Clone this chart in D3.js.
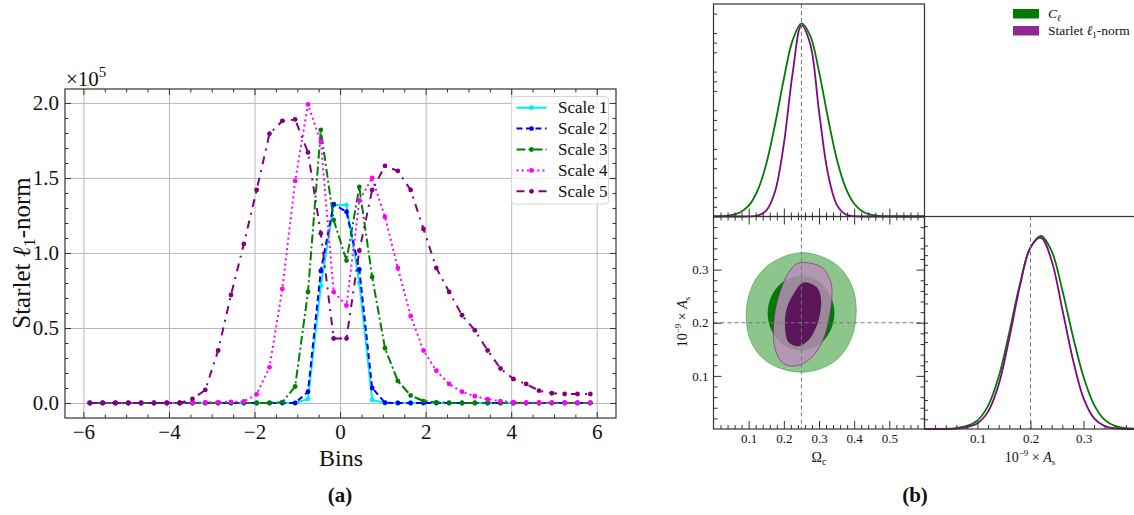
<!DOCTYPE html>
<html>
<head>
<meta charset="utf-8">
<script src="https://cdn.jsdelivr.net/npm/d3@7"></script>
<style>
  body { margin: 0; background: #fff; }
</style>
</head>
<body>
<svg id="fig" width="1134" height="515" font-family="Liberation Serif"></svg>
<script>
// ---- panel (a) data: starlet l1-norm per bin, in units of 1e5 ----
const bins = [-5.85, -5.55, -5.25, -4.95, -4.65, -4.35, -4.05, -3.75, -3.45, -3.15,
              -2.85, -2.55, -2.25, -1.95, -1.65, -1.35, -1.05, -0.75, -0.45, -0.15,
               0.15,  0.45,  0.75,  1.05,  1.35,  1.65,  1.95,  2.25,  2.55,  2.85,
               3.15,  3.45,  3.75,  4.05,  4.35,  4.65,  4.95,  5.25,  5.55,  5.85];
const scale1 = [0, 0, 0, 0, 0, 0, 0, 0, 0, 0,
                0, 0, 0, 0, 0, 0, 0, 0.027, 0.78, 1.32,
                1.32, 0.80, 0.02, 0, 0, 0, 0, 0, 0, 0,
                0, 0, 0, 0, 0, 0, 0, 0, 0, 0];
const scale2 = [0, 0, 0, 0, 0, 0, 0, 0, 0, 0,
                0, 0, 0, 0, 0, 0, 0, 0.075, 0.88, 1.325,
                1.275, 0.89, 0.10, 0.002, 0, 0, 0, 0, 0, 0,
                0, 0, 0, 0, 0, 0, 0, 0, 0, 0];
const scale3 = [0, 0, 0, 0, 0, 0, 0, 0, 0, 0,
                0, 0, 0, 0, 0, 0.005, 0.11, 0.74, 1.82, 1.22,
                0.95, 1.44, 0.84, 0.365, 0.147, 0.05, 0.013, 0.004, 0.001, 0,
                0, 0, 0, 0, 0, 0, 0, 0, 0, 0];
const scale4 = [0, 0, 0, 0, 0, 0, 0, 0, 0.003, 0.004,
                0.005, 0.007, 0.01, 0.058, 0.238, 0.76, 1.48, 1.99, 1.74, 0.74,
                0.65, 1.35, 1.50, 1.24, 0.90, 0.58, 0.35, 0.215, 0.127, 0.075,
                0.045, 0.025, 0.012, 0.005, 0.002, 0.002, 0.002, 0.002, 0.002, 0.002];
const scale5 = [0, 0, 0, 0, 0, 0, 0, 0, 0.027, 0.087,
                0.35, 0.72, 1.06, 1.42, 1.795, 1.88, 1.89, 1.67, 1.13, 0.43,
                0.43, 1.015, 1.42, 1.58, 1.547, 1.42, 1.16, 0.90, 0.74, 0.585,
                0.485, 0.35, 0.23, 0.16, 0.127, 0.082, 0.065, 0.06, 0.06, 0.06];
const seriesNames = ["Scale 1", "Scale 2", "Scale 3", "Scale 4", "Scale 5"];
const xTicksA = [-6, -4, -2, 0, 2, 4, 6];
const yTicksA = [0, 0.5, 1.0, 1.5, 2.0];

// ---- panel (b) data ----
const omegaGrid = [0, 0.025, 0.05, 0.075, 0.1, 0.125, 0.15, 0.175, 0.2, 0.225, 0.25, 0.275,
                   0.3, 0.325, 0.35, 0.375, 0.4, 0.425, 0.45, 0.475, 0.5, 0.525, 0.55, 0.575, 0.6];
const omegaCl = [0.0005, 0.002, 0.007, 0.021, 0.056, 0.133, 0.272, 0.476, 0.712, 0.912, 1.0, 0.936,
                 0.750, 0.515, 0.302, 0.152, 0.066, 0.025, 0.008, 0.0022, 0.0005, 0.0001, 0, 0, 0];
const omegaStarlet = [0, 0, 0, 0, 0.0005, 0.0047, 0.030, 0.129, 0.375, 0.741, 0.989, 0.893,
                      0.546, 0.226, 0.063, 0.012, 0.0015, 0, 0, 0, 0, 0, 0, 0, 0];
const asGrid = [0, 0.02, 0.04, 0.06, 0.08, 0.1, 0.12, 0.14, 0.16, 0.18, 0.2,
                0.22, 0.24, 0.26, 0.28, 0.3, 0.32, 0.34, 0.36, 0.38, 0.4];
const asCl = [0, 0, 0.001, 0.005, 0.016, 0.045, 0.12, 0.27, 0.50, 0.75, 0.94,
              1.0, 0.92, 0.72, 0.48, 0.27, 0.125, 0.047, 0.015, 0.004, 0.001];
const asStarlet = [0, 0, 0, 0.002, 0.01, 0.03, 0.09, 0.23, 0.47, 0.74, 0.94,
                   0.99, 0.87, 0.62, 0.36, 0.16, 0.055, 0.015, 0.003, 0, 0];
// contours, [Omega_c, 1e-9 A_s]
const clOuter = [[0.252, 0.332], [0.342, 0.313], [0.39, 0.275], [0.406, 0.2245], [0.39, 0.1675],
                 [0.342, 0.126], [0.256, 0.107], [0.161, 0.123], [0.109, 0.161], [0.093, 0.218],
                 [0.114, 0.275], [0.166, 0.313]];
const clInner = [[0.344, 0.218], [0.331, 0.253], [0.297, 0.279], [0.249, 0.288], [0.202, 0.279],
                 [0.167, 0.253], [0.154, 0.218], [0.167, 0.183], [0.202, 0.157], [0.249, 0.148],
                 [0.297, 0.157], [0.331, 0.183]];
const starletOuter = [[0.266, 0.313], [0.309, 0.304], [0.333, 0.278], [0.337, 0.250], [0.328, 0.2055],
                      [0.309, 0.164], [0.276, 0.133], [0.237, 0.119], [0.199, 0.123], [0.176, 0.1485],
                      [0.171, 0.199], [0.185, 0.25], [0.213, 0.294], [0.237, 0.311]];
const starletInner = [[0.266, 0.276], [0.295, 0.266], [0.306, 0.2435], [0.299, 0.2055], [0.275, 0.171],
                      [0.242, 0.156], [0.213, 0.164], [0.203, 0.199], [0.210, 0.231], [0.232, 0.259],
                      [0.25, 0.274]];
const omegaTicks = [0.1, 0.2, 0.3, 0.4, 0.5];
const asTicksLeft = [0.1, 0.2, 0.3];
const asTicksBottom = [0.1, 0.2, 0.3];
const fiducial = { omega: 0.25, as: 0.2 };

const svg = d3.select("#fig");
const GRID = "#b8b8b8", FRAME = "#333";
const SERIF = "Liberation Serif";

function minorTicks(lo, hi, step, skip) {
    // tick positions between lo and hi, skipping those in "skip"
    const out = [];
    for (let v = lo; v <= hi + 1e-9; v += step) {
        const r = Math.round(v * 1000) / 1000;
        if (!skip.some(s => Math.abs(s - r) < 1e-6)) out.push(r);
    }
    return out;
}
function styleAxis(g) {
    g.attr("font-family", SERIF);
    g.select(".domain").remove();
    g.selectAll(".tick line").attr("stroke", FRAME).attr("stroke-width", 1);
    g.selectAll("text").attr("fill", "#111");
    return g;
}

// ================= panel (a) =================
const A = { left: 65, right: 616, top: 89, bottom: 418 };
const x = d3.scaleLinear().domain([-6.43, 6.45]).range([A.left, A.right]);
const y = d3.scaleLinear().domain([-0.1, 2.093]).range([A.bottom, A.top]);

// grid
svg.append("g").attr("transform", `translate(0,${A.bottom})`)
    .call(d3.axisBottom(x).tickValues(xTicksA).tickSize(-(A.bottom - A.top)).tickFormat(""))
    .call(g => g.select(".domain").remove())
    .selectAll("line").attr("stroke", GRID).attr("stroke-width", 1);
svg.append("g").attr("transform", `translate(${A.left},0)`)
    .call(d3.axisLeft(y).tickValues(yTicksA).tickSize(-(A.right - A.left)).tickFormat(""))
    .call(g => g.select(".domain").remove())
    .selectAll("line").attr("stroke", GRID).attr("stroke-width", 1);

// ticks
const xMinorA = minorTicks(-6, 6, 0.5, xTicksA);
const yMinorA = minorTicks(0, 2.0, 0.1, yTicksA);
const bx = svg.append("g").attr("transform", `translate(0,${A.bottom})`)
    .call(d3.axisBottom(x).tickValues(xTicksA).tickSize(-6).tickPadding(6));
styleAxis(bx).attr("font-size", 21);
styleAxis(svg.append("g").attr("transform", `translate(0,${A.bottom})`)
    .call(d3.axisBottom(x).tickValues(xMinorA).tickSize(-3.5).tickFormat("")));
styleAxis(svg.append("g").attr("transform", `translate(0,${A.top})`)
    .call(d3.axisTop(x).tickValues(xTicksA).tickSize(-6).tickFormat("")));
styleAxis(svg.append("g").attr("transform", `translate(0,${A.top})`)
    .call(d3.axisTop(x).tickValues(xMinorA).tickSize(-3.5).tickFormat("")));
const ly = svg.append("g").attr("transform", `translate(${A.left},0)`)
    .call(d3.axisLeft(y).tickValues(yTicksA).tickSize(-6).tickPadding(6).tickFormat(d3.format(".1f")));
styleAxis(ly).attr("font-size", 21);
styleAxis(svg.append("g").attr("transform", `translate(${A.left},0)`)
    .call(d3.axisLeft(y).tickValues(yMinorA).tickSize(-3.5).tickFormat("")));
styleAxis(svg.append("g").attr("transform", `translate(${A.right},0)`)
    .call(d3.axisRight(y).tickValues(yTicksA).tickSize(-6).tickFormat("")));
styleAxis(svg.append("g").attr("transform", `translate(${A.right},0)`)
    .call(d3.axisRight(y).tickValues(yMinorA).tickSize(-3.5).tickFormat("")));

// lines
const seriesA = [
    { values: scale1, color: "#00eef2", dash: null },
    { values: scale2, color: "#0000ff", dash: "6,3.5" },
    { values: scale3, color: "#008000", dash: "9,3,2,3" },
    { values: scale4, color: "#ff00ff", dash: "2,3.2" },
    { values: scale5, color: "#800080", dash: "8,6,2,6" }
];
const lineA = d3.line().x(d => x(d[0])).y(d => y(d[1]));
seriesA.forEach(s => {
    const pts = bins.map((b, i) => [b, s.values[i]]);
    svg.append("path").datum(pts)
        .attr("d", lineA).attr("fill", "none")
        .attr("stroke", s.color).attr("stroke-width", 2)
        .attr("stroke-dasharray", s.dash);
    svg.append("g").selectAll("circle").data(pts).join("circle")
        .attr("cx", d => x(d[0])).attr("cy", d => y(d[1])).attr("r", 2.4)
        .attr("fill", s.color);
});

// frame
svg.append("rect").attr("x", A.left).attr("y", A.top)
    .attr("width", A.right - A.left).attr("height", A.bottom - A.top)
    .attr("fill", "none").attr("stroke", FRAME).attr("stroke-width", 1.2);

// legend (a)
const legA = svg.append("g").attr("transform", "translate(511.5,96.5)");
legA.append("rect").attr("width", 97).attr("height", 107.5).attr("rx", 3)
    .attr("fill", "#fff").attr("fill-opacity", 0.8).attr("stroke", "#d6d6d6");
seriesA.forEach((s, i) => {
    const yy = 11.2 + i * 20.9;
    legA.append("line").attr("x1", 5).attr("x2", 35).attr("y1", yy).attr("y2", yy)
        .attr("stroke", s.color).attr("stroke-width", 2).attr("stroke-dasharray", s.dash);
    legA.append("circle").attr("cx", 20).attr("cy", yy).attr("r", 2.4).attr("fill", s.color);
    legA.append("text").attr("x", 46.5).attr("y", yy + 5.5).attr("font-size", 17)
        .text(seriesNames[i]);
});

// labels (a)
const ylab = svg.append("text")
    .attr("transform", "translate(30,253) rotate(-90)")
    .attr("text-anchor", "middle").attr("font-size", 25);
ylab.append("tspan").text("Starlet ");
ylab.append("tspan").attr("font-style", "italic").text("ℓ");
ylab.append("tspan").attr("font-size", 17).attr("dy", 5).text("1");
ylab.append("tspan").attr("dy", -5).text("-norm");
svg.append("text").attr("x", 341).attr("y", 466).attr("text-anchor", "middle")
    .attr("font-size", 24).text("Bins");
const expo = svg.append("text").attr("x", 66).attr("y", 86).attr("font-size", 21);
expo.append("tspan").text("×10");
expo.append("tspan").attr("font-size", 15).attr("dy", -9).text("5");
svg.append("text").attr("x", 340).attr("y", 502).attr("text-anchor", "middle")
    .attr("font-size", 21).attr("font-weight", "bold").text("(a)");

// ================= panel (b) =================
const L = 713.5, M = 924.5, R = 1136.5, T = 4, MID = 216.5, B = 429;
const xOm = d3.scaleLinear().domain([0, 0.6]).range([L, M]);
const xAs = d3.scaleLinear().domain([0, 0.4]).range([M, R]);
const yAs = d3.scaleLinear().domain([0, 0.4]).range([B, MID]);
const yDenTop = d3.scaleLinear().domain([0, 1.1]).range([MID, T]);
const yDenBot = d3.scaleLinear().domain([0, 1.1]).range([B, MID]);
const GREEN = "#007a00", PURPLE = "#7f0a80";
const omMinor = minorTicks(0.02, 0.58, 0.02, omegaTicks);
const asMinor = minorTicks(0.02, 0.38, 0.02, asTicksLeft);
const denMinor = minorTicks(0.05, 1.05, 0.05, [0.2, 0.4, 0.6, 0.8, 1.0]);

function ticks(g, axis) { styleAxis(g.call(axis)); return g; }

// --- contours ---
const contour = d3.line().x(d => xOm(d[0])).y(d => yAs(d[1]))
    .curve(d3.curveCatmullRomClosed.alpha(0.5));
svg.append("path").attr("d", contour(clOuter)).attr("fill", "#008000").attr("fill-opacity", 0.45)
    .attr("stroke", "#008000").attr("stroke-opacity", 0.4).attr("stroke-width", 1);
svg.append("path").attr("d", contour(clInner)).attr("fill", "#007a00");
svg.append("path").attr("d", contour(starletOuter)).attr("fill", "rgb(187,142,187)").attr("fill-opacity", 0.83)
    .attr("stroke", PURPLE).attr("stroke-opacity", 0.55).attr("stroke-width", 1);
svg.append("path").attr("d", contour(starletInner)).attr("fill", "#5c165c");

// --- 1D posteriors ---
const denTop = d3.line().x(d => xOm(d[0])).y(d => yDenTop(d[1])).curve(d3.curveCatmullRom.alpha(0.5));
const denBot = d3.line().x(d => xAs(d[0])).y(d => yDenBot(d[1])).curve(d3.curveCatmullRom.alpha(0.5));
svg.append("path").attr("d", denTop(omegaGrid.map((v, i) => [v, omegaCl[i]])))
    .attr("fill", "none").attr("stroke", GREEN).attr("stroke-width", 1.8);
svg.append("path").attr("d", denTop(omegaGrid.map((v, i) => [v, omegaStarlet[i]])))
    .attr("fill", "none").attr("stroke", PURPLE).attr("stroke-width", 1.8);
svg.append("path").attr("d", denBot(asGrid.map((v, i) => [v, asCl[i]])))
    .attr("fill", "none").attr("stroke", GREEN).attr("stroke-width", 1.8);
svg.append("path").attr("d", denBot(asGrid.map((v, i) => [v, asStarlet[i]])))
    .attr("fill", "none").attr("stroke", PURPLE).attr("stroke-width", 1.8);

// --- fiducial dashed lines ---
const dashStyle = s => s.attr("stroke", "#777").attr("stroke-width", 1).attr("stroke-dasharray", "4,3");
dashStyle(svg.append("line").attr("x1", xOm(fiducial.omega)).attr("x2", xOm(fiducial.omega)).attr("y1", T).attr("y2", MID));
dashStyle(svg.append("line").attr("x1", xOm(fiducial.omega)).attr("x2", xOm(fiducial.omega)).attr("y1", MID).attr("y2", B));
dashStyle(svg.append("line").attr("x1", L).attr("x2", M).attr("y1", yAs(fiducial.as)).attr("y2", yAs(fiducial.as)));
dashStyle(svg.append("line").attr("x1", xAs(fiducial.as)).attr("x2", xAs(fiducial.as)).attr("y1", MID).attr("y2", B));

// --- ticks ---
// top-left panel
ticks(svg.append("g").attr("transform", `translate(0,${MID})`), d3.axisBottom(xOm).tickValues(omegaTicks).tickSize(-8).tickFormat(""));
ticks(svg.append("g").attr("transform", `translate(0,${MID})`), d3.axisBottom(xOm).tickValues(omMinor).tickSize(-4).tickFormat(""));
ticks(svg.append("g").attr("transform", `translate(${L},0)`), d3.axisLeft(yDenTop).tickValues(denMinor).tickSize(-3.5).tickFormat(""));
// bottom-left panel
const blx = ticks(svg.append("g").attr("transform", `translate(0,${B})`),
    d3.axisBottom(xOm).tickValues(omegaTicks).tickSize(-8).tickPadding(5).tickFormat(d3.format(".1f")));
blx.attr("font-size", 13);
ticks(svg.append("g").attr("transform", `translate(0,${B})`), d3.axisBottom(xOm).tickValues(omMinor).tickSize(-4).tickFormat(""));
ticks(svg.append("g").attr("transform", `translate(0,${MID})`), d3.axisTop(xOm).tickValues(omegaTicks).tickSize(-8).tickFormat(""));
ticks(svg.append("g").attr("transform", `translate(0,${MID})`), d3.axisTop(xOm).tickValues(omMinor).tickSize(-4).tickFormat(""));
const bly = ticks(svg.append("g").attr("transform", `translate(${L},0)`),
    d3.axisLeft(yAs).tickValues(asTicksLeft).tickSize(-8).tickPadding(5).tickFormat(d3.format(".1f")));
bly.attr("font-size", 13);
ticks(svg.append("g").attr("transform", `translate(${L},0)`), d3.axisLeft(yAs).tickValues(asMinor).tickSize(-4).tickFormat(""));
ticks(svg.append("g").attr("transform", `translate(${M},0)`), d3.axisRight(yAs).tickValues(asTicksLeft).tickSize(-8).tickFormat(""));
ticks(svg.append("g").attr("transform", `translate(${M},0)`), d3.axisRight(yAs).tickValues(asMinor).tickSize(-4).tickFormat(""));
// bottom-right panel
const brx = ticks(svg.append("g").attr("transform", `translate(0,${B})`),
    d3.axisBottom(xAs).tickValues(asTicksBottom).tickSize(-8).tickPadding(5).tickFormat(d3.format(".1f")));
brx.attr("font-size", 13);
ticks(svg.append("g").attr("transform", `translate(0,${B})`), d3.axisBottom(xAs).tickValues(asMinor).tickSize(-4).tickFormat(""));
ticks(svg.append("g").attr("transform", `translate(${M},0)`), d3.axisLeft(yDenBot).tickValues(denMinor).tickSize(-3.5).tickFormat(""));

// --- frames ---
const frame = (x0, y0, x1, y1) => svg.append("rect").attr("x", x0).attr("y", y0)
    .attr("width", x1 - x0).attr("height", y1 - y0)
    .attr("fill", "none").attr("stroke", FRAME).attr("stroke-width", 1.2);
frame(L, T, M, MID);
frame(L, MID, M, B);
frame(M, MID, R + 5, B);

// --- legend (b) ---
const legB = svg.append("g").attr("transform", "translate(1013,9)");
legB.append("rect").attr("width", 26).attr("height", 9.5).attr("fill", "#007a00");
legB.append("rect").attr("y", 17).attr("width", 26).attr("height", 9.5).attr("fill", "#8e2a8e");
const c1 = legB.append("text").attr("x", 35).attr("y", 9).attr("font-size", 13.5);
c1.append("tspan").attr("font-style", "italic").text("C");
c1.append("tspan").attr("font-style", "italic").attr("font-size", 9).attr("dy", 3).text("ℓ");
const c2 = legB.append("text").attr("x", 35).attr("y", 26).attr("font-size", 13.5);
c2.append("tspan").text("Starlet ");
c2.append("tspan").attr("font-style", "italic").text("ℓ");
c2.append("tspan").attr("font-size", 9).attr("dy", 3).text("1");
c2.append("tspan").attr("dy", -3).text("-norm");

// --- axis titles (b) ---
const om = svg.append("text").attr("x", 819).attr("y", 462).attr("text-anchor", "middle").attr("font-size", 14);
om.append("tspan").text("Ω");
om.append("tspan").attr("font-size", 10).attr("dy", 3).text("c");
function asLabel(sel) {
    sel.append("tspan").text("10");
    sel.append("tspan").attr("font-size", 9).attr("dy", -6).text("−9");
    sel.append("tspan").attr("dy", 6).text(" × ");
    sel.append("tspan").attr("font-style", "italic").text("A");
    sel.append("tspan").attr("font-size", 9).attr("dy", 3).text("s");
}
asLabel(svg.append("text").attr("x", 1030).attr("y", 462).attr("text-anchor", "middle").attr("font-size", 14));
asLabel(svg.append("text").attr("transform", "translate(687,322) rotate(-90)")
    .attr("text-anchor", "middle").attr("font-size", 14));
svg.append("text").attr("x", 915).attr("y", 502).attr("text-anchor", "middle")
    .attr("font-size", 21).attr("font-weight", "bold").text("(b)");

// all text in the serif face
svg.selectAll("text").attr("font-family", SERIF).attr("fill", "#111");
</script>
</body>
</html>
